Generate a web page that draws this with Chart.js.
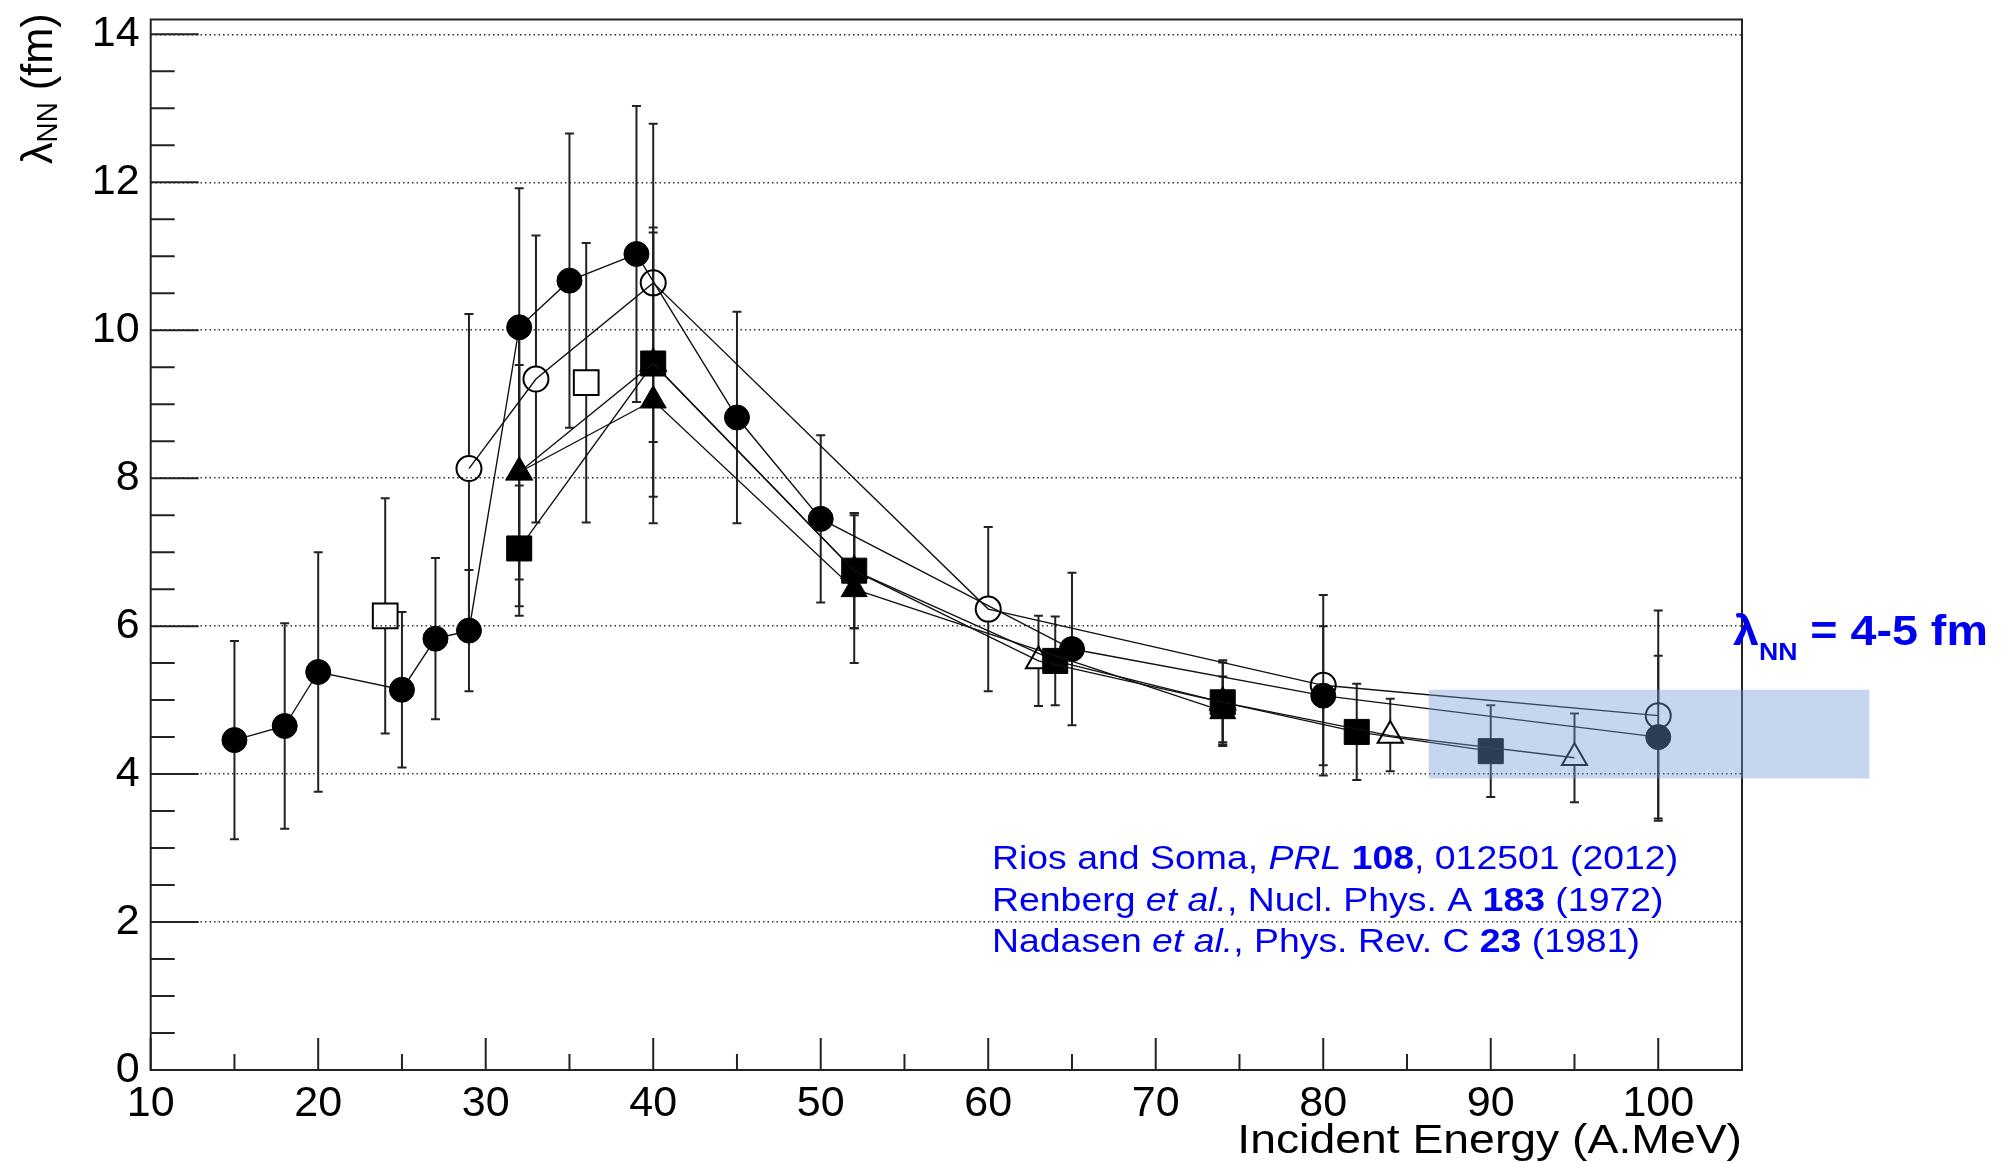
<!DOCTYPE html>
<html>
<head>
<meta charset="utf-8">
<script src="https://cdn.jsdelivr.net/npm/chart.js@4.4.1/dist/chart.umd.min.js"></script>
<style>
  html, body { margin: 0; padding: 0; background: #fff; }
  canvas { display: block; }
</style>
</head>
<body>
<canvas id="lambdaChart" width="2001" height="1163"></canvas>
<script>
// filled circles
const circX = [15, 18, 20, 25, 27, 29, 32, 35, 39, 45, 50, 65, 80, 100];
const circY = [4.46, 4.65, 5.38, 5.14, 5.83, 5.94, 10.04, 10.67, 11.03, 8.82, 7.45, 5.69, 5.06, 4.50];
const circErr = [1.34, 1.39, 1.62, 1.05, 1.09, 0.82, 1.88, 1.99, 2.0, 1.43, 1.13, 1.03, 0.94, 1.10];

// open circles
const ocX = [29, 33, 40, 60, 80, 100];
const ocY = [8.13, 9.34, 10.64, 6.23, 5.20, 4.79];
const ocErr = [2.09, 1.94, 2.15, 1.11, 1.22, 1.42];

// filled squares
const sqX = [32, 40, 52, 64, 74, 82, 90];
const sqY = [7.05, 9.55, 6.75, 5.53, 4.97, 4.57, 4.31];
const sqErrLo = [0.91, 1.80, 0.78, 0.60, 0.57, 0.65, 0.62];
const sqErrHi = [0.85, 1.84, 0.78, 0.60, 0.57, 0.65, 0.62];

// open triangles
const otX = [32, 40, 52, 63, 74, 84, 95];
const otY = [8.08, 9.55, 6.75, 5.53, 4.97, 4.52, 4.22];
const otErrLo = [1.45, 2.16, 0.78, 0.61, 0.54, 0.48, 0.60];
const otErrHi = [1.45, 1.77, 0.78, 0.61, 0.54, 0.50, 0.60];

// filled triangles
const ftX = [32, 40, 52, 74];
const ftY = [8.08, 9.05, 6.50, 4.85];
const ftErr = [1.81, 0, 1.00, 0.47];

// open squares (no connecting line)
const osX = [24, 36];
const osY = [6.14, 9.29];
const osErr = [1.59, 1.89];

// shaded band for lambda_NN = 4-5 fm
const bandX = [86.3, 112.6];
const bandY = [3.94, 5.14];

const yTicks = [0, 2, 4, 6, 8, 10, 12, 14];
const xTicks = [10, 20, 30, 40, 50, 60, 70, 80, 90, 100];

const FONT = '"Liberation Sans", Arial, sans-serif';
const BLUE = '#0000f0';

function pts(xs, ys) {
  return xs.map((x, i) => ({ x: x, y: ys[i] }));
}

function series(xs, ys, lo, hi, style, radius, filled, line) {
  return {
    data: pts(xs, ys),
    errLo: lo,
    errHi: hi,
    showLine: line,
    borderColor: '#111',
    borderWidth: 1.4,
    tension: 0,
    pointStyle: style,
    pointRadius: radius,
    pointBackgroundColor: filled ? '#000' : 'rgba(0,0,0,0)',
    pointBorderColor: '#000',
    pointBorderWidth: filled ? 1 : 2
  };
}

const datasets = [
  series(osX, osY, osErr, osErr, 'rect', 17.5, false, false),
  series(otX, otY, otErrLo, otErrHi, 'triangle', 14.5, false, true),
  series(ftX, ftY, ftErr, ftErr, 'triangle', 15, true, true),
  series(sqX, sqY, sqErrLo, sqErrHi, 'rect', 17.7, true, true),
  series(ocX, ocY, ocErr, ocErr, 'circle', 12.5, false, true),
  series(circX, circY, circErr, circErr, 'circle', 12.5, true, true)
];

// extent of a marker above / below its centre, so the bar stops at the edge
function markerGap(ds) {
  const r = ds.pointRadius;
  if (ds.pointStyle === 'rect') return [r * Math.SQRT1_2, r * Math.SQRT1_2];
  if (ds.pointStyle === 'triangle') return [r, r / 2];
  return [r, r];
}

const errorBars = {
  id: 'errorBars',
  beforeDatasetsDraw(chart) {
    const { ctx, scales: { x, y } } = chart;
    ctx.save();
    ctx.strokeStyle = '#222';
    ctx.lineWidth = 2;
    chart.data.datasets.forEach(ds => {
      const [gUp, gDown] = markerGap(ds);
      ds.data.forEach((p, i) => {
        const lo = ds.errLo[i], hi = ds.errHi[i];
        if (!lo && !hi) return;
        const px = x.getPixelForValue(p.x);
        const py = y.getPixelForValue(p.y);
        const pTop = y.getPixelForValue(p.y + hi);
        const pBot = y.getPixelForValue(p.y - lo);
        ctx.beginPath();
        if (pTop < py - gUp) { ctx.moveTo(px, pTop); ctx.lineTo(px, py - gUp); }
        if (pBot > py + gDown) { ctx.moveTo(px, py + gDown); ctx.lineTo(px, pBot); }
        ctx.moveTo(px - 4.5, pTop); ctx.lineTo(px + 4.5, pTop);
        ctx.moveTo(px - 4.5, pBot); ctx.lineTo(px + 4.5, pBot);
        ctx.stroke();
      });
    });
    ctx.restore();
  }
};

// frame with inward ticks
const frame = {
  id: 'frame',
  beforeDatasetsDraw(chart) {
    const { ctx, chartArea: a, scales: { x, y } } = chart;
    ctx.save();
    ctx.strokeStyle = '#222';
    ctx.lineWidth = 2;
    ctx.beginPath();
    for (let v = 0; v <= 14; v += 0.5) {
      const py = y.getPixelForValue(v);
      ctx.moveTo(a.left, py);
      ctx.lineTo(a.left + (v % 2 === 0 ? 48 : 24), py);
    }
    for (let v = 10; v <= 105; v += 5) {
      const px = x.getPixelForValue(v);
      ctx.moveTo(px, a.bottom);
      ctx.lineTo(px, a.bottom - (v % 10 === 0 ? 32 : 16));
    }
    ctx.stroke();
    ctx.strokeRect(a.left, a.top, a.right - a.left, a.bottom - a.top);
    ctx.restore();
  },
  afterDatasetsDraw(chart) {
    const { ctx, scales: { x, y } } = chart;
    const x0 = x.getPixelForValue(bandX[0]), x1 = x.getPixelForValue(bandX[1]);
    const y0 = y.getPixelForValue(bandY[1]), y1 = y.getPixelForValue(bandY[0]);
    ctx.save();
    ctx.fillStyle = 'rgba(110,152,212,0.4)';
    ctx.fillRect(x0, y0, x1 - x0, y1 - y0);
    ctx.restore();
  }
};

function runsWidth(ctx, runs, sx) {
  let w = 0;
  runs.forEach(r => { ctx.font = r.font; w += ctx.measureText(r.text).width; });
  return w * sx;
}

function drawRuns(ctx, x, y, runs, sx) {
  ctx.save();
  ctx.translate(x, y);
  ctx.scale(sx, 1);
  ctx.textBaseline = 'alphabetic';
  ctx.textAlign = 'left';
  let cx = 0;
  runs.forEach(r => {
    ctx.font = r.font;
    ctx.fillText(r.text, cx, r.dy || 0);
    cx += ctx.measureText(r.text).width;
  });
  ctx.restore();
}

const f = (size, style) => (style ? style + ' ' : '') + size + 'px ' + FONT;

const labels = {
  id: 'labels',
  afterDraw(chart) {
    const { ctx, chartArea: a } = chart;
    ctx.save();

    // axis titles
    ctx.fillStyle = '#000';
    const xTitle = [{ text: 'Incident Energy (A.MeV)', font: f(41) }];
    drawRuns(ctx, a.right - runsWidth(ctx, xTitle, 1.13), 1153, xTitle, 1.13);

    ctx.save();
    ctx.translate(52, 164);
    ctx.rotate(-Math.PI / 2);
    drawRuns(ctx, 0, 0, [
      { text: 'λ', font: f(45) },
      { text: 'NN', font: f(29), dy: 5 },
      { text: ' (fm)', font: f(45) }
    ], 0.96);
    ctx.restore();

    // references
    ctx.fillStyle = BLUE;
    const refs = [
      [{ text: 'Rios and Soma, ', font: f(34) }, { text: 'PRL', font: f(34, 'italic') },
       { text: ' ', font: f(34) }, { text: '108', font: f(34, 'bold') },
       { text: ', 012501 (2012)', font: f(34) }],
      [{ text: 'Renberg ', font: f(34) }, { text: 'et al.', font: f(34, 'italic') },
       { text: ', Nucl. Phys. A ', font: f(34) }, { text: '183', font: f(34, 'bold') },
       { text: ' (1972)', font: f(34) }],
      [{ text: 'Nadasen ', font: f(34) }, { text: 'et al.', font: f(34, 'italic') },
       { text: ', Phys. Rev. C ', font: f(34) }, { text: '23', font: f(34, 'bold') },
       { text: ' (1981)', font: f(34) }]
    ];
    refs.forEach((line, i) => drawRuns(ctx, 992, 869 + i * 41.7, line, 1.1));

    drawRuns(ctx, 1733, 645, [
      { text: 'λ', font: f(42, 'bold') },
      { text: 'NN', font: f(24, 'bold'), dy: 15 },
      { text: ' = 4-5 fm', font: f(42, 'bold') }
    ], 1.11);

    ctx.restore();
  }
};

new Chart(document.getElementById('lambdaChart'), {
  type: 'line',
  data: { datasets: datasets },
  options: {
    responsive: false,
    animation: false,
    events: [],
    layout: { padding: { left: 0, top: 12.5, right: 259, bottom: 0 } },
    plugins: { legend: { display: false }, tooltip: { enabled: false } },
    scales: {
      x: {
        type: 'linear',
        min: 10,
        max: 105,
        grid: { display: false, drawTicks: false },
        border: { display: false },
        afterBuildTicks: s => { s.ticks = xTicks.map(v => ({ value: v })); },
        ticks: { padding: 8, color: '#000', font: { family: FONT, size: 43 }, maxRotation: 0 },
        afterFit: s => { s.height = 93; s.paddingLeft = 0; s.paddingRight = 0; }
      },
      y: {
        type: 'linear',
        min: 0,
        max: 14.2,
        grid: { color: '#333', lineWidth: 1.5, drawTicks: false },
        border: { display: false, dash: [1.5, 3] },
        afterBuildTicks: s => { s.ticks = yTicks.map(v => ({ value: v })); },
        ticks: { padding: 11, color: '#000', font: { family: FONT, size: 43 } },
        afterFit: s => { s.width = 150.7; s.paddingTop = 0; s.paddingBottom = 0; }
      }
    }
  },
  plugins: [frame, errorBars, labels]
});
</script>
</body>
</html>
